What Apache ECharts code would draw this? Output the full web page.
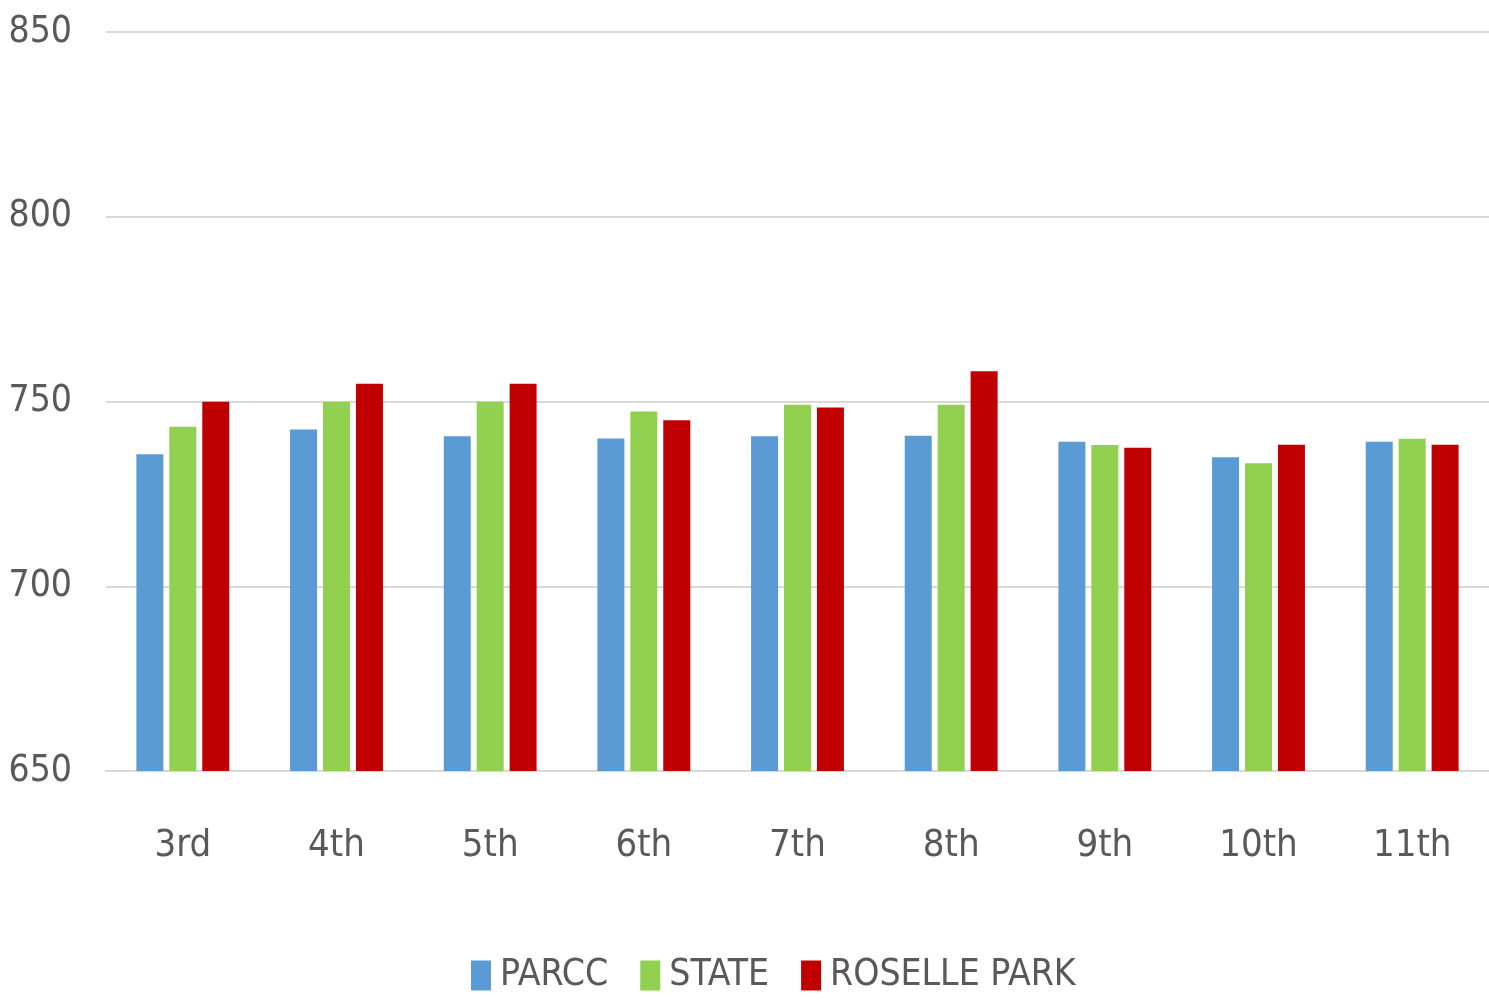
<!DOCTYPE html>
<html>
<head>
<meta charset="utf-8">
<script src="https://cdn.jsdelivr.net/npm/echarts@6/dist/echarts.min.js"></script>
<style>
  html, body { margin: 0; padding: 0; background: #fff; }
  #main { width: 1489px; height: 1003px; }
</style>
</head>
<body>
<div id="main"></div>
<script>
var grades = ['3rd', '4th', '5th', '6th', '7th', '8th', '9th', '10th', '11th'];
var parcc = [735.7, 742.4, 740.6, 740, 740.6, 740.7, 739.1, 734.9, 739.1];
var state = [743.2, 749.9, 749.9, 747.3, 749.1, 749.1, 738.2, 733.3, 739.9];
var roselle = [749.9, 754.8, 754.8, 744.9, 748.4, 758.2, 737.5, 738.3, 738.3];
var yTicks = [650, 850, 50];

var fontFam = '"Liberation Sans Narrow", "DejaVu Sans Condensed", sans-serif';
var txtColor = '#595959';

var chart = echarts.init(document.getElementById('main'));
chart.setOption({
    animation: false,
    textStyle: { fontFamily: fontFam },
    grid: { left: 106, right: 0, top: 32, bottom: 232, outerBoundsMode: 'none', containLabel: false },
    legend: {
        top: 952,
        left: 466,
        itemWidth: 20,
        itemHeight: 30,
        itemGap: 32,
        icon: 'rect',
        textStyle: { color: txtColor, fontSize: 37, fontFamily: fontFam, padding: [0, 0, 0, 4] },
        data: ['PARCC', 'STATE', 'ROSELLE PARK']
    },
    xAxis: {
        type: 'category',
        data: grades,
        axisLine: { lineStyle: { color: '#d9d9d9', width: 2 } },
        axisTick: { show: false },
        axisLabel: { color: txtColor, fontSize: 38, margin: 56, fontFamily: fontFam }
    },
    yAxis: {
        type: 'value',
        min: yTicks[0],
        max: yTicks[1],
        interval: yTicks[2],
        axisLine: { show: false },
        axisTick: { show: false },
        splitLine: { lineStyle: { color: '#d9d9d9', width: 2 } },
        axisLabel: { color: txtColor, fontSize: 37, margin: 34, fontFamily: fontFam }
    },
    series: [
        { name: 'PARCC', type: 'bar', data: parcc, barWidth: 27, barGap: '22%',
          itemStyle: { color: '#5b9bd5' } },
        { name: 'STATE', type: 'bar', data: state, barWidth: 27, barGap: '22%',
          itemStyle: { color: '#92d050' } },
        { name: 'ROSELLE PARK', type: 'bar', data: roselle, barWidth: 27, barGap: '22%',
          itemStyle: { color: '#c00000' } }
    ]
});
</script>
</body>
</html>
